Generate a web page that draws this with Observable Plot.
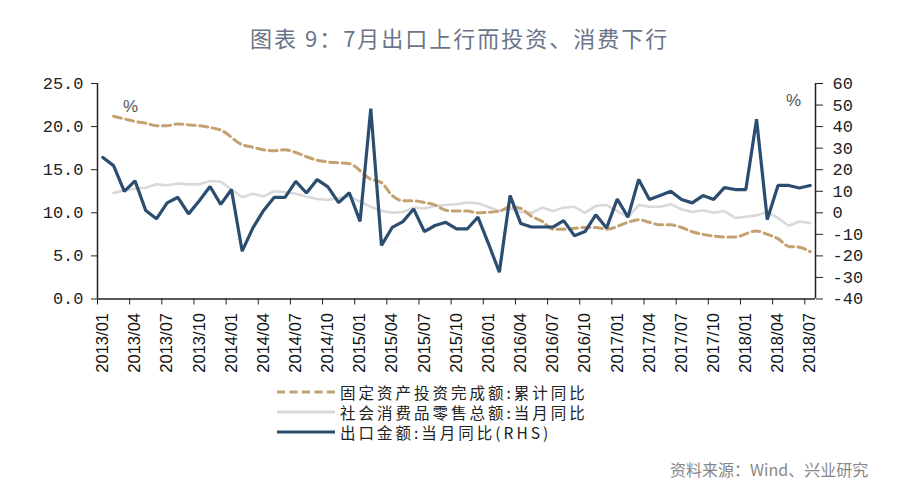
<!DOCTYPE html>
<html>
<head>
<meta charset="utf-8">
<script src="https://cdn.jsdelivr.net/npm/d3@7"></script>
<script src="https://cdn.jsdelivr.net/npm/@observablehq/plot@0.6"></script>
<style>
  html, body { margin: 0; padding: 0; background: #fff; }
  body { width: 900px; height: 498px; position: relative; overflow: hidden; font-family: "Noto Sans CJK SC", sans-serif; }
  #chart { position: absolute; left: 0; top: 0; }
  #title { position: absolute; left: 250px; top: 21px; font-size: 22px; line-height: 32px; letter-spacing: 2px; color: #6b7488; white-space: nowrap; }
  .pct { position: absolute; font-family: "Liberation Sans", sans-serif; font-size: 17px; line-height: 20px; color: #555; }
  #legend { position: absolute; left: 277px; top: 382px; }
  .row { display: flex; align-items: center; height: 20px; line-height: 20px; font-size: 15.5px; letter-spacing: 3px; color: #222; white-space: nowrap; }
  .row span { line-height: 18px; display: inline-block; }
  .row svg { margin-right: 5px; flex: none; }
  #source { position: absolute; left: 670px; top: 458px; font-size: 16px; line-height: 22px; color: #888; white-space: nowrap; }
</style>
</head>
<body>
<div id="title">图表 9：7月出口上行而投资、消费下行</div>
<div id="chart"></div>
<div class="pct" style="left:123px;top:97px;">%</div>
<div class="pct" style="left:786px;top:91px;">%</div>
<div id="legend"></div>
<div id="source">资料来源：Wind、兴业研究</div>
<script>
// ---- data ----
const startYear = 2013, startMonth = 1, monthCount = 67; // 2013/01 .. 2018/07
const tickLabels = ["2013/01","2013/04","2013/07","2013/10","2014/01","2014/04","2014/07","2014/10",
  "2015/01","2015/04","2015/07","2015/10","2016/01","2016/04","2016/07","2016/10",
  "2017/01","2017/04","2017/07","2017/10","2018/01","2018/04","2018/07"];

// 固定资产投资完成额:累计同比 (LHS)
const fai = [null,21.2,20.9,20.6,20.4,20.1,20.1,20.3,20.2,20.1,19.9,19.6,
  null,17.9,17.6,17.3,17.2,17.3,17.0,16.5,16.1,15.9,15.8,15.7,
  null,13.9,13.5,12.0,11.4,11.4,11.2,10.9,10.3,10.2,10.2,10.0,
  null,10.2,10.7,10.5,9.6,9.0,8.1,8.1,8.2,8.3,8.3,8.1,
  null,8.9,9.2,8.9,8.6,8.6,8.3,7.8,7.5,7.3,7.2,7.2,
  null,7.9,7.5,7.0,6.1,6.0,5.5];

// 社会消费品零售总额:当月同比 (LHS)
const retail = [null,12.3,12.6,12.8,12.9,13.3,13.2,13.4,13.3,13.3,13.7,13.6,
  null,11.8,12.2,11.9,12.5,12.4,12.2,11.9,11.6,11.5,11.7,11.9,
  null,10.7,10.2,10.0,10.1,10.6,10.5,10.8,10.9,11.0,11.2,11.1,
  null,10.2,10.5,10.1,10.0,10.6,10.2,10.6,10.7,10.0,10.8,10.9,
  null,9.5,10.9,10.7,10.7,11.0,10.4,10.1,10.3,10.0,10.2,9.4,
  null,9.7,10.1,9.4,8.5,9.0,8.8];

// 出口金额:当月同比 (RHS)
const exportsYoY = [25.7,21.9,9.9,14.8,1.1,-2.8,4.6,7.2,-0.5,5.6,12.2,3.9,
  10.8,-17.8,-7.0,1.1,7.2,7.2,14.6,9.2,15.4,12.0,4.7,9.3,
  -4.0,48.3,-15.1,-6.8,-4.1,1.8,-8.7,-5.9,-4.4,-7.5,-7.5,-2.0,
  -14.5,-27.6,8.0,-5.0,-6.6,-6.6,-6.6,-3.6,-10.6,-8.7,-0.9,-7.1,
  6.4,-2.0,15.5,6.2,8.0,10.0,6.2,4.6,8.0,6.2,11.7,10.8,
  10.8,43.4,-3.1,12.7,12.7,11.5,12.7];

const leftTicks = [0,5,10,15,20,25];
const rightTicks = [-40,-30,-20,-10,0,10,20,30,40,50,60];
const leftDomain = [0, 25], rightDomain = [-40, 60];

// ---- build ----
const months = [];
for (let k = 0; k < monthCount; k++) {
  const m = startMonth - 1 + k;
  const y = startYear + Math.floor(m / 12), mm = (m % 12) + 1;
  months.push(`${y}/${String(mm).padStart(2, "0")}`);
}
const labelIdx = tickLabels.map(l => months.indexOf(l));
const boundaries = d3.range(-0.5, monthCount, 3);
const xDomain = [-0.5, monthCount - 0.5];

const toL = v => leftDomain[0] + (v - rightDomain[0]) / (rightDomain[1] - rightDomain[0]) * (leftDomain[1] - leftDomain[0]);
const fromL = d => rightDomain[0] + (d - leftDomain[0]) / (leftDomain[1] - leftDomain[0]) * (rightDomain[1] - rightDomain[0]);

const faiData = fai.map((v, i) => ({i, v})).filter(d => d.v != null);
const retailData = retail.map((v, i) => ({i, v})).filter(d => d.v != null);
const expData = exportsYoY.map((v, i) => ({i, v: toL(v)}));

const axisColor = "#222";
const chart = Plot.plot({
  width: 900,
  height: 392,
  marginLeft: 97,
  marginRight: 85,
  marginTop: 83,
  marginBottom: 93.5,
  x: {domain: xDomain},
  y: {domain: leftDomain},
  style: {background: "transparent", color: axisColor, fontFamily: "'Liberation Mono', monospace", fontSize: "17px"},
  marks: [
    Plot.lineY(retailData, {x: "i", y: "v", stroke: "#d9d9d9", strokeWidth: 2.6}),
    Plot.lineY(faiData, {x: "i", y: "v", stroke: "#c4a170", strokeWidth: 3, strokeDasharray: "8,4.5", curve: "monotone-x"}),
    Plot.lineY(expData, {x: "i", y: "v", stroke: "#2b4d6f", strokeWidth: 3.2, strokeLinejoin: "miter"}),
    Plot.axisY({anchor: "left", ticks: leftTicks, tickFormat: d => d.toFixed(1), tickSize: 6, tickPadding: 8, label: null, fill: "#222", fontFamily: "'Liberation Mono', monospace", fontSize: 17}),
    Plot.axisY({anchor: "right", ticks: rightTicks.map(toL), tickFormat: d => String(Math.round(fromL(d))), tickSize: 7, tickPadding: 10, label: null, fill: "#222", fontFamily: "'Liberation Mono', monospace", fontSize: 17}),
    Plot.axisX({ticks: boundaries, tickFormat: () => "", tickSize: 6, label: null}),
    Plot.axisX({ticks: labelIdx, tickFormat: i => months[i], tickSize: 0, tickPadding: 14, tickRotate: -90, label: null, fill: "#111", fontFamily: "'Liberation Sans', Arial, sans-serif", fontSize: 16.5}),
    Plot.ruleY([leftDomain[0]], {stroke: axisColor, strokeWidth: 1.5}),
    Plot.ruleX(xDomain, {stroke: axisColor, strokeWidth: 1.5})
  ]
});
document.getElementById("chart").appendChild(chart);

// ---- legend ----
const legendItems = [
  {label: "固定资产投资完成额:累计同比", stroke: "#c4a170", dash: "8,4.5", w: 3},
  {label: "社会消费品零售总额:当月同比", stroke: "#d9d9d9", dash: null, w: 3},
  {label: "出口金额:当月同比(RHS)", stroke: "#2b4d6f", dash: null, w: 3.2}
];
const legend = d3.select("#legend");
for (const it of legendItems) {
  const row = legend.append("div").attr("class", "row");
  const s = row.append("svg").attr("width", 58).attr("height", 20);
  s.append("line").attr("x1", 0).attr("x2", 58).attr("y1", 10).attr("y2", 10)
    .attr("stroke", it.stroke).attr("stroke-width", it.w).attr("stroke-dasharray", it.dash);
  row.append("span").text(it.label);
}
</script>
</body>
</html>
